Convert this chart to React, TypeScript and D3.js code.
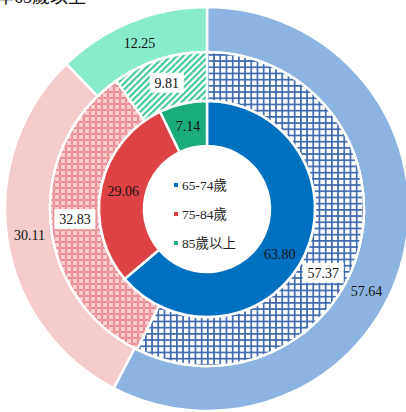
import React from "react";
import * as d3 from "d3";

const categories = ["65-74歲", "75-84歲", "85歲以上"];
const innerValues = [63.8, 29.06, 7.14];
const middleValues = [57.37, 32.83, 9.81];
const outerValues = [57.64, 30.11, 12.25];
const titleText = "年65歲以上";

const W = 406;
const H = 412;
const cx = 207;
const cy = 209;

const innerColors = ["#0070C0", "#DF4245", "#1BAC7C"];
const middleFills = ["url(#pGrid)", "url(#pPink)", "url(#pStripe)"];
const outerColors = ["#8DB3E2", "#F5CBCC", "#88EBCB"];

const pie = d3
  .pie<number>()
  .sort(null)
  .startAngle(0)
  .endAngle(2 * Math.PI);

const fmt = d3.format(".2f");

interface RingProps {
  values: number[];
  r0: number;
  r1: number;
  fills: string[];
  boxed?: boolean;
  firstFrac: number;
}

const Ring: React.FC<RingProps> = ({ values, r0, r1, fills, boxed, firstFrac }) => {
  const arcs = pie(values);
  const arc = d3.arc<d3.PieArcDatum<number>>().innerRadius(r0).outerRadius(r1);
  const rm = (r0 + r1) / 2;
  return (
    <g>
      {arcs.map((a, i) => (
        <path key={"p" + i} d={arc(a) || ""} fill={fills[i]} stroke="#fff" strokeWidth={2.5} />
      ))}
      {arcs.map((a, i) => {
        // Excel pushes the label of the big first slice a bit past its middle
        const f = i === 0 ? firstFrac : 0.5;
        const ang = a.startAngle + (a.endAngle - a.startAngle) * f;
        const x = Math.sin(ang) * rm;
        const y = -Math.cos(ang) * rm;
        const txt = fmt(a.data);
        const w = txt.length * 7 + 6;
        return (
          <g key={"l" + i} transform={`translate(${x},${y})`}>
            {boxed && <rect x={-w / 2} y={-10} width={w} height={20} fill="#fff" />}
            <text
              textAnchor="middle"
              dy="0.35em"
              fontSize={14}
              fontFamily="'Liberation Serif', 'Times New Roman', serif"
              fill="#111"
            >
              {txt}
            </text>
          </g>
        );
      })}
    </g>
  );
};

export default function App() {
  const legendY = d3.scalePoint<string>().domain(categories).range([-24, 34]);
  return (
    <svg
      width={W}
      height={H}
      style={{ position: "absolute", left: 0, top: 0 }}
    >
      <defs>
        <pattern id="pGrid" width={6.2} height={6.2} patternUnits="userSpaceOnUse">
          <rect width={6.2} height={6.2} fill="#fff" />
          <rect x={0} y={0} width={1.7} height={6.2} fill="#3F68B0" />
          <rect x={0} y={0} width={6.2} height={1.7} fill="#3F68B0" />
        </pattern>
        <pattern id="pPink" width={6} height={6} patternUnits="userSpaceOnUse">
          <rect width={6} height={6} fill="#F7CDD0" />
          <rect x={2} y={0} width={2} height={6} fill="#EA8C93" />
          <rect x={0} y={2} width={6} height={2} fill="#EA8C93" />
          <rect x={2.5} y={2.5} width={1} height={1} fill="#FBE3E5" />
        </pattern>
        <pattern
          id="pStripe"
          width={4.5}
          height={4.5}
          patternUnits="userSpaceOnUse"
          patternTransform="rotate(45)"
        >
          <rect width={4.5} height={4.5} fill="#fff" />
          <rect x={0} y={0} width={2.1} height={4.5} fill="#3FC796" />
        </pattern>
      </defs>
      <text
        x={86}
        y={3}
        textAnchor="end"
        fontSize={18}
        fontFamily="'Liberation Serif', 'Noto Sans CJK TC', serif"
        fill="#111"
      >
        {titleText}
      </text>
      <g transform={`translate(${cx},${cy})`}>
        <Ring values={outerValues} r0={157} r1={202} fills={outerColors} firstFrac={0.565} />
        <Ring values={middleValues} r0={108} r1={157} fills={middleFills} boxed firstFrac={0.575} />
        <Ring values={innerValues} r0={63} r1={108} fills={innerColors} firstFrac={0.53} />
        <g transform="translate(-31,0)">
          {categories.map((c, i) => (
            <g key={c} transform={`translate(0,${legendY(c)})`}>
              <rect x={-2} y={-2} width={4} height={4} fill={innerColors[i]} />
              <text
                x={6}
                dy="0.35em"
                fontSize={13.5}
                fontFamily="'Liberation Serif', 'Noto Sans CJK TC', serif"
                fill="#222"
              >
                {c}
              </text>
            </g>
          ))}
        </g>
      </g>
    </svg>
  );
}
